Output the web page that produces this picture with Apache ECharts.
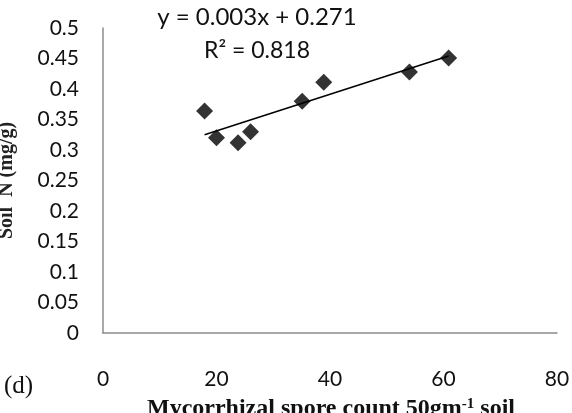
<!DOCTYPE html>
<html><head><meta charset="utf-8">
<script src="https://cdn.jsdelivr.net/npm/echarts@6/dist/echarts.min.js"></script>
<style>html,body{margin:0;padding:0;background:#fff}#c{width:572px;height:413px}</style>
</head><body><div id="c"></div>
<script>
var sporeCount = [17.9, 20.0, 23.8, 26.0, 35.1, 38.9, 54.0, 60.9];
var soilN = [0.364, 0.320, 0.312, 0.330, 0.380, 0.411, 0.428, 0.451];
var trendX = [17.9, 60.9];
var trendY = [0.325, 0.454];
var xTicks = [0, 20, 40, 60, 80];
var yTicks = [0, 0.05, 0.1, 0.15, 0.2, 0.25, 0.3, 0.35, 0.4, 0.45, 0.5];
var equationText = 'y = 0.003x + 0.271';
var r2Text = 'R² = 0.818';

var chart = echarts.init(document.getElementById('c'));
var tickFont = 'Lato';
chart.setOption({
  animation: false,
  grid: {left: 103, right: 15, top: 28, bottom: 80, containLabel: false, outerBoundsMode: 'none'},
  xAxis: {
    type: 'value', min: 0, max: 80, interval: 20,
    axisLine: {show: true, lineStyle: {color: '#8c8c8c', width: 1.5}},
    axisTick: {show: false},
    splitLine: {show: false},
    axisLabel: {margin: 36, fontFamily: tickFont, fontSize: 21, color: '#111',
      formatter: function (v) { return xTicks.indexOf(v) >= 0 ? String(v) : ''; }}
  },
  yAxis: {
    type: 'value', min: 0, max: 0.5, interval: 0.05,
    axisLine: {show: true, lineStyle: {color: '#8c8c8c', width: 1.5}},
    axisTick: {show: false},
    splitLine: {show: false},
    axisLabel: {margin: 24, fontFamily: tickFont, fontSize: 21, color: '#111',
      formatter: function (v) {
        for (var i = 0; i < yTicks.length; i++) { if (Math.abs(yTicks[i] - v) < 1e-9) return String(yTicks[i]); }
        return '';
      }},
    name: 'Soil  N (mg/g)', nameLocation: 'middle', nameGap: 86,
    nameTextStyle: {fontFamily: 'Liberation Serif', fontWeight: 'bold', fontSize: 20, color: '#222'}
  },
  series: [
    {
      type: 'line',
      data: trendX.map(function (x, i) { return [x, trendY[i]]; }),
      showSymbol: false, symbol: 'none',
      lineStyle: {color: '#000', width: 1.5},
      z: 2
    },
    {
      type: 'scatter',
      data: sporeCount.map(function (x, i) { return [x, soilN[i]]; }),
      symbol: 'path://M0,-1L1,0L0,1L-1,0Z',
      symbolSize: 17,
      itemStyle: {color: '#000'},
      z: 3
    }
  ],
  graphic: [
    {type: 'text', x: 257, y: 17, style: {text: equationText, fontFamily: tickFont, fontSize: 24, fill: '#111', textAlign: 'center', textVerticalAlign: 'middle'}},
    {type: 'text', x: 257, y: 51, style: {text: r2Text, fontFamily: tickFont, fontSize: 23, fill: '#111', textAlign: 'center', textVerticalAlign: 'middle'}},
    {type: 'text', x: 4, y: 386, style: {text: '(d)', fontFamily: 'Liberation Serif', fontSize: 25, fill: '#111', textAlign: 'left', textVerticalAlign: 'middle'}},
    {type: 'text', x: 331, y: 409, style: {
      text: '{a|Mycorrhizal spore count 50gm}{s|-1}{a| soil}',
      textAlign: 'center', textVerticalAlign: 'middle',
      rich: {
        a: {fontFamily: 'Liberation Serif', fontWeight: 'bold', fontSize: 24, fill: '#111', color: '#111'},
        s: {fontFamily: 'Liberation Serif', fontWeight: 'bold', fontSize: 15, fill: '#111', color: '#111', verticalAlign: 'top', padding: [0, 0, 10, 0]}
      }}}
  ]
});
</script></body></html>
